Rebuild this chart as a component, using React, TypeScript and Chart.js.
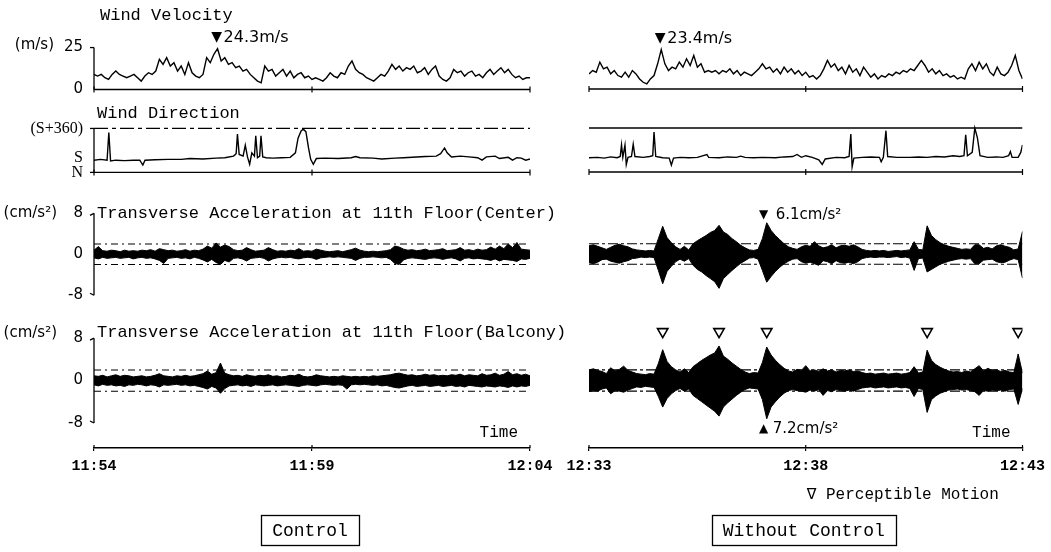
import React, { useEffect, useRef } from "react";
import { Chart, registerables } from "chart.js";

Chart.register(...registerables);

// ---------------- data ----------------
const TIME_TICKS = [0, 5, 10]; // minutes from start of record
const TIME_LABELS_CONTROL = ["11:54", "11:59", "12:04"];
const TIME_LABELS_NO_CONTROL = ["12:33", "12:38", "12:43"];

// wind velocity (m/s), one value every 5 s
const VEL_STEP_MIN = 1 / 12;
const VEL_TICKS = [0, 25];
const VEL_CONTROL = [
  9, 8, 9, 7, 6, 9, 11, 9, 8, 7, 8, 9, 7, 5, 8, 10, 9, 11, 18, 15,
  19, 14, 16, 11, 14, 9, 16, 10, 8, 7, 9, 19, 16, 21, 24.3, 17, 19, 15, 16, 13,
  14, 11, 12, 9, 7, 5, 4, 14, 11, 12, 8, 10, 12, 8, 11, 7, 9, 10, 7, 8,
  6, 7, 6, 5, 7, 10, 8, 7, 10, 9, 14, 17, 12, 10, 9, 7, 6, 5, 7, 9,
  8, 11, 15, 12, 14, 11, 13, 12, 14, 10, 11, 13, 9, 12, 14, 8, 6, 5, 7, 12,
  10, 11, 8, 10, 11, 8, 9, 7, 10, 12, 9, 11, 13, 10, 12, 9, 7, 8, 6, 7,
  7,
];
const VEL_NO_CONTROL = [
  9, 11, 10, 16, 12, 13, 9, 11, 8, 7, 10, 7, 11, 9, 6, 4, 3, 6, 8, 15,
  23.4, 15, 11, 13, 12, 16, 13, 18, 14, 20, 13, 15, 10, 11, 10, 11, 9, 11, 10, 12,
  9, 11, 8, 10, 9, 8, 10, 12, 15, 12, 13, 10, 12, 9, 13, 10, 12, 9, 11, 8,
  10, 7, 8, 6, 8, 12, 17, 13, 15, 11, 13, 9, 14, 10, 12, 8, 13, 10, 7, 9,
  6, 8, 7, 9, 8, 10, 9, 11, 10, 12, 11, 14, 17, 14, 10, 12, 9, 11, 8, 9,
  7, 8, 6, 7, 6, 12, 15, 11, 16, 12, 15, 10, 8, 13, 9, 8, 10, 14, 20, 11,
  6,
];

// wind direction (deg from N; S = 180, S+360 = 540)
const DIR_TICKS = [0, 180, 540];
const DIR_TICK_LABELS = ["N", "S", "(S+360)"];
const DIR_TOP = 540;
const DIR_CONTROL_T = [
  0, 0.15, 0.3, 0.34, 0.38, 0.5, 0.7, 0.9, 1.05, 1.12, 1.17, 1.4, 1.7, 2.0, 2.2, 2.5, 2.8, 3.0,
  3.2, 3.26, 3.29, 3.33, 3.42, 3.47, 3.52, 3.57, 3.62, 3.68, 3.71, 3.75, 3.8, 3.83, 3.87, 3.95,
  4.1, 4.3, 4.5, 4.62, 4.68, 4.75, 4.8, 4.86, 4.92, 4.97, 5.03, 5.1, 5.3, 5.6, 5.9, 6.0, 6.1,
  6.4, 6.6, 6.9, 7.1, 7.4, 7.6, 7.85, 7.95, 8.04, 8.1, 8.2, 8.4, 8.6, 8.8, 8.9, 9.0, 9.2, 9.3,
  9.5, 9.6, 9.7, 9.8, 9.9, 10,
];
const DIR_CONTROL = [
  150, 160, 150, 490, 140, 150, 145, 150, 150, 90, 150, 155, 160, 160, 170, 165, 175, 180,
  200, 230, 470, 220, 200, 335, 190, 100, 240, 200, 450, 180, 200, 450, 190, 180,
  175, 180, 185, 240, 420, 510, 530, 500, 300, 160, 100, 170, 175, 170, 180, 195, 180,
  175, 165, 175, 180, 190, 195, 200, 230, 300, 240, 190, 200, 190, 180, 150, 190, 200, 170,
  185, 150, 180, 175, 150, 165,
];
const DIR_NO_CONTROL_T = [
  0, 0.2, 0.35, 0.5, 0.65, 0.72, 0.75, 0.78, 0.83, 0.86, 0.9, 0.98, 1.02, 1.06, 1.25, 1.4, 1.47,
  1.5, 1.54, 1.7, 1.85, 1.9, 1.95, 2.1, 2.3, 2.5, 2.72, 2.76, 3.0, 3.2, 3.4, 3.5, 3.6, 3.8, 4.0,
  4.3, 4.5, 4.7, 4.8, 4.9, 5.0, 5.15, 5.3, 5.38, 5.45, 5.7, 5.9, 6.0, 6.04, 6.07, 6.11, 6.3, 6.5,
  6.7, 6.74, 6.79, 6.85, 6.89, 7.1, 7.4, 7.6, 7.8, 8.0, 8.2, 8.4, 8.55, 8.65, 8.69, 8.73, 8.84,
  8.9, 8.96, 9.02, 9.2, 9.4, 9.55, 9.68, 9.72, 9.76, 9.9, 9.96, 10,
];
const DIR_NO_CONTROL = [
  175, 180, 170, 185, 175, 190, 333, 180, 330, 90, 180, 190, 341, 190, 180, 190, 200,
  490, 190, 175, 170, 85, 170, 180, 175, 180, 215, 180, 175, 185, 180, 195, 180, 175, 180,
  175, 185, 190, 215, 180, 200, 180, 150, 93, 160, 180, 175, 190, 466, 64, 170, 180, 185,
  180, 126, 180, 507, 190, 180, 180, 185, 180, 190, 185, 200, 190, 200, 457, 200, 240,
  540, 420, 200, 180, 185, 180, 200, 250, 180, 180, 240, 333,
];

// transverse acceleration envelopes (cm/s²), one value every 6 s
const ACC_STEP_MIN = 0.1;
const ACC_TICKS = [-8, 0, 8];
const ACC_REF_LEVEL = 2;
const ACC_C_CONTROL_HI = [
  0.8, 1.5, 0.7, 0.6, 0.8, 0.7, 0.5, 0.8, 0.6, 0.7, 0.6, 0.8, 0.7, 0.9, 0.6, 1.1, 0.9, 0.7, 0.8, 0.6,
  0.7, 0.9, 0.6, 0.8, 0.7, 1.0, 1.6, 1.2, 2.2, 1.4, 1.8, 1.5, 0.9, 0.7, 0.8, 1.3, 0.9, 0.6, 0.7, 0.8,
  1.3, 0.9, 0.6, 0.7, 0.6, 0.8, 0.7, 1.1, 0.6, 0.7, 0.6, 1.0, 0.8, 0.6, 0.5, 0.6, 0.7, 0.5, 0.7, 0.9,
  1.2, 0.8, 0.6, 0.5, 0.6, 0.5, 0.6, 0.7, 0.9, 1.6, 1.4, 1.0, 0.8, 0.9, 0.7, 0.8, 1.0, 0.7, 0.8, 0.9,
  1.1, 0.7, 0.8, 0.9, 1.3, 0.8, 0.9, 0.7, 1.0, 0.8, 0.9, 1.4, 1.0, 1.6, 1.1, 2.0, 1.3, 2.3, 1.0, 0.9,
  0.8,
];
const ACC_C_CONTROL_LO = [
  -0.7, -0.9, -0.6, -0.8, -0.7, -0.6, -0.8, -0.7, -0.6, -0.9, -0.7, -0.6, -0.8, -0.7, -0.9, -1.2, -1.8, -0.8, -0.7, -0.6,
  -0.8, -0.7, -0.9, -0.6, -0.8, -1.1, -1.5, -1.0, -1.6, -2.0, -1.2, -1.5, -0.8, -0.7, -0.9, -1.3, -0.8, -0.7, -0.6, -0.8,
  -1.3, -0.9, -0.7, -0.6, -0.7, -0.6, -0.8, -0.9, -0.7, -0.6, -0.7, -1.0, -0.7, -0.6, -0.5, -0.6, -0.5, -0.6, -0.7, -0.8,
  -1.2, -0.8, -0.6, -0.6, -0.5, -0.6, -0.7, -0.6, -1.0, -1.8, -2.0, -1.1, -0.8, -0.7, -0.8, -0.9, -1.0, -0.8, -0.7, -0.8,
  -1.0, -0.8, -0.7, -0.9, -1.3, -0.8, -0.7, -0.9, -0.8, -0.9, -1.0, -1.2, -0.9, -1.3, -1.0, -1.1, -1.2, -1.4, -0.9, -1.0,
  -0.8,
];
const ACC_B_CONTROL_HI = [
  0.9, 0.8, 1.0, 0.7, 0.9, 1.1, 0.8, 1.0, 0.9, 0.7, 0.8, 0.9, 0.7, 0.8, 1.0, 1.3, 0.9, 0.8, 0.7, 0.9,
  0.8, 1.0, 0.8, 0.9, 1.1, 1.3, 1.8, 1.2, 1.5, 3.3, 1.4, 1.1, 0.9, 1.0, 0.8, 1.1, 0.9, 0.8, 1.0, 0.9,
  1.1, 0.8, 0.9, 0.7, 0.8, 1.0, 0.9, 1.2, 0.8, 0.7, 0.8, 1.1, 0.9, 0.8, 0.7, 0.8, 0.7, 0.9, 0.8, 0.7,
  0.8, 0.7, 0.8, 0.7, 0.9, 0.8, 0.9, 1.0, 1.1, 1.3, 1.4, 1.2, 1.0, 1.1, 0.9, 1.0, 1.2, 1.0, 1.1, 0.9,
  1.0, 0.9, 1.1, 1.0, 1.2, 0.9, 1.1, 1.0, 0.9, 1.3, 1.0, 1.1, 1.4, 1.0, 1.2, 1.7, 1.1, 1.3, 1.0, 1.2,
  0.9,
];
const ACC_B_CONTROL_LO = [
  -0.8, -1.0, -0.7, -0.9, -0.8, -1.0, -0.9, -1.1, -0.8, -0.9, -0.7, -0.8, -1.0, -0.8, -0.9, -1.2, -0.8, -0.9, -0.8, -0.7,
  -0.9, -0.8, -1.0, -0.9, -1.1, -1.3, -1.6, -1.1, -1.4, -2.4, -1.5, -1.0, -0.9, -0.8, -1.0, -0.9, -1.1, -0.8, -0.9, -1.0,
  -0.9, -0.8, -1.0, -0.9, -0.8, -0.9, -1.0, -1.1, -0.9, -0.8, -0.9, -1.0, -0.8, -0.7, -0.8, -0.9, -0.8, -0.9, -1.6, -0.8,
  -0.7, -0.8, -0.7, -0.8, -0.9, -0.8, -1.0, -0.9, -1.1, -1.3, -1.4, -1.2, -1.0, -0.9, -1.1, -1.0, -0.9, -1.1, -1.0, -0.9,
  -1.1, -1.0, -0.9, -1.1, -1.0, -1.2, -0.9, -1.0, -1.1, -1.2, -1.0, -1.1, -1.2, -1.0, -1.1, -1.3, -1.0, -1.2, -1.0, -1.1,
  -0.9,
];
const ACC_C_NO_CONTROL_HI = [
  1.6, 1.8, 1.5, 1.2, 0.9, 1.3, 1.7, 1.9, 1.6, 1.4, 1.0, 0.8, 0.7, 0.6, 0.7, 0.6, 3.0, 5.4, 3.2, 2.2,
  1.4, 0.9, 1.5, 0.8, 2.0, 2.6, 3.1, 3.6, 4.2, 4.6, 5.6, 4.3, 3.8, 3.0, 2.4, 1.7, 1.2, 0.8, 0.7, 0.9,
  3.0, 6.1, 4.6, 3.6, 2.8, 2.0, 1.4, 1.1, 0.9, 1.4, 1.7, 1.5, 2.4, 1.6, 1.2, 1.4, 1.8, 1.2, 1.6, 1.7,
  1.5, 1.8, 1.4, 0.9, 0.7, 0.6, 0.7, 0.6, 0.7, 0.5, 0.6, 0.7, 0.6, 0.7, 0.8, 2.4, 0.9, 0.8, 5.5, 3.6,
  2.8, 2.2, 1.8, 1.5, 1.3, 1.1, 0.9, 1.0, 0.9, 1.8, 1.8, 1.1, 1.3, 1.0, 1.6, 1.8, 1.5, 1.3, 0.8, 1.0,
  4.4,
];
const ACC_C_NO_CONTROL_LO = [
  -1.7, -1.9, -1.6, -1.1, -1.0, -1.4, -1.6, -1.8, -1.5, -1.3, -0.9, -0.8, -0.6, -0.7, -0.6, -0.7, -3.2, -5.8, -3.4, -2.4,
  -1.5, -1.0, -1.4, -0.9, -2.2, -3.0, -3.5, -4.2, -4.8, -5.4, -6.7, -4.8, -4.0, -3.2, -2.5, -1.8, -1.3, -0.8, -0.7, -1.0,
  -3.2, -5.5, -4.4, -3.4, -2.6, -1.9, -1.4, -1.0, -0.9, -1.5, -1.8, -1.6, -1.9, -2.2, -1.3, -1.5, -1.9, -1.3, -1.7, -1.8,
  -1.6, -1.9, -1.5, -0.9, -0.7, -0.6, -0.7, -0.6, -0.6, -0.7, -0.6, -0.5, -0.7, -0.6, -0.8, -3.2, -0.9, -0.8, -3.5, -3.0,
  -2.5, -2.0, -1.7, -1.4, -1.2, -1.0, -0.9, -1.0, -0.9, -1.9, -1.9, -1.2, -1.1, -1.0, -1.5, -1.7, -1.6, -1.2, -0.9, -1.1,
  -4.7,
];
const ACC_B_NO_CONTROL_HI = [
  2.0, 2.2, 1.9, 1.7, 1.3, 2.4, 1.8, 2.1, 2.7, 1.9, 1.6, 1.3, 1.2, 1.1, 1.3, 1.2, 3.2, 5.8, 3.6, 2.6,
  2.0, 1.6, 2.2, 1.5, 2.6, 3.2, 3.8, 4.3, 4.8, 5.2, 6.5, 4.6, 4.0, 3.3, 2.7, 2.1, 1.6, 1.3, 1.5, 1.4,
  3.4, 6.3, 4.8, 3.8, 3.0, 2.3, 1.8, 1.6, 2.1, 1.9, 2.8, 1.8, 2.0, 1.7, 2.2, 1.8, 2.0, 1.6, 1.9, 1.8,
  2.0, 1.7, 1.8, 1.5, 1.3, 1.4, 1.2, 1.3, 1.4, 1.2, 1.3, 1.4, 1.2, 1.3, 1.5, 2.6, 1.4, 1.6, 5.7, 3.8,
  3.0, 2.5, 2.1, 1.8, 1.6, 1.7, 1.5, 1.8, 1.6, 2.2, 2.8, 1.8, 2.3, 1.9, 2.0, 1.7, 1.9, 1.6, 1.5, 5.0,
  1.4,
];
const ACC_B_NO_CONTROL_LO = [
  -2.1, -1.9, -2.0, -1.6, -1.4, -2.5, -1.9, -2.0, -2.2, -1.8, -1.5, -1.2, -1.3, -1.1, -1.2, -1.3, -3.0, -5.0, -3.4, -2.5,
  -1.9, -1.5, -2.0, -1.6, -2.8, -3.4, -4.0, -4.6, -5.2, -5.8, -6.7, -5.0, -4.2, -3.5, -2.8, -2.2, -1.7, -1.4, -1.5, -1.6,
  -3.6, -7.2, -5.0, -4.0, -3.1, -2.4, -1.9, -1.7, -1.9, -2.0, -2.2, -1.8, -2.0, -1.7, -2.8, -1.9, -2.1, -1.7, -1.9, -2.0,
  -1.8, -2.0, -1.7, -1.4, -1.3, -1.2, -1.4, -1.3, -1.2, -1.4, -1.3, -1.2, -1.4, -1.3, -1.5, -3.0, -1.5, -1.7, -6.0, -3.6,
  -2.9, -2.4, -2.1, -1.8, -1.7, -1.6, -1.8, -1.7, -1.9, -2.1, -2.8, -1.9, -2.0, -1.8, -1.9, -1.8, -2.0, -1.7, -1.6, -4.5,
  -1.5,
];

// annotated peaks and perceptible-motion marks (no control)
const PEAK_VEL_CONTROL = { t: 34 / 12, v: 24.3, label: "24.3m/s" };
const PEAK_VEL_NO_CONTROL = { t: 20 / 12, v: 23.4, label: "23.4m/s" };
const PEAK_ACC_CENTER = { t: 4.1, v: 6.1, label: "6.1cm/s²" };
const PEAK_ACC_BALCONY = { t: 4.1, v: -7.2, label: "7.2cm/s²" };
const PERCEPTIBLE_T = [1.7, 3.0, 4.1, 7.8, 9.9];
const PERCEPTIBLE_MARK_LEVEL = 9.2;

// ---------------- layout / style ----------------
const MONO = "'Liberation Mono', 'DejaVu Sans Mono', monospace";
const SANS = "'DejaVu Sans', 'Liberation Sans', sans-serif";
const SERIF = "'Liberation Serif', 'DejaVu Serif', serif";
const PLOT_TOP = 20;
const PLOT_BOTTOM = 448;
const CANVAS_H = 552;

// each row: pixel slice [top,bottom] and two anchors [value, pixel]
const ROWS = {
  vel: { top: 20, bottom: 100, a: [25, 47], b: [0, 89] },
  dir: { top: 100, bottom: 185, a: [540, 128], b: [0, 172] },
  acc1: { top: 185, bottom: 316, a: [8, 213], b: [-8, 295] },
  acc2: { top: 316, bottom: 448, a: [8, 338], b: [-8, 423] },
};

function rowRange(r) {
  const k = (r.b[1] - r.a[1]) / (r.a[0] - r.b[0]);
  return {
    min: r.b[0] - (r.bottom - r.b[1]) / k,
    max: r.a[0] + (r.a[1] - r.top) / k,
    weight: r.bottom - r.top,
  };
}

const CONTROL_PANEL = {
  left: true,
  canvasX: 0,
  canvasW: 600,
  plotLeft: 94,
  plotRight: 530,
  timeLabels: TIME_LABELS_CONTROL,
  vel: VEL_CONTROL,
  dirT: DIR_CONTROL_T,
  dir: DIR_CONTROL,
  accC: [ACC_C_CONTROL_HI, ACC_C_CONTROL_LO],
  accB: [ACC_B_CONTROL_HI, ACC_B_CONTROL_LO],
  velPeak: PEAK_VEL_CONTROL,
  caption: "Control",
};
const NO_CONTROL_PANEL = {
  left: false,
  canvasX: 560,
  canvasW: 491,
  plotLeft: 29,
  plotRight: 464,
  timeLabels: TIME_LABELS_NO_CONTROL,
  vel: VEL_NO_CONTROL,
  dirT: DIR_NO_CONTROL_T,
  dir: DIR_NO_CONTROL,
  accC: [ACC_C_NO_CONTROL_HI, ACC_C_NO_CONTROL_LO],
  accB: [ACC_B_NO_CONTROL_HI, ACC_B_NO_CONTROL_LO],
  velPeak: PEAK_VEL_NO_CONTROL,
  caption: "Without Control",
};

const sampled = (ys, step) => ys.map((y, i) => ({ x: i * step, y }));
const paired = (xs, ys) => ys.map((y, i) => ({ x: xs[i], y }));
const level = (y) => [
  { x: TIME_TICKS[0], y },
  { x: TIME_TICKS[TIME_TICKS.length - 1], y },
];

function seg(ctx, x1, y1, x2, y2, w = 1.3) {
  ctx.save();
  ctx.strokeStyle = "#000";
  ctx.lineWidth = w;
  ctx.beginPath();
  ctx.moveTo(x1, y1);
  ctx.lineTo(x2, y2);
  ctx.stroke();
  ctx.restore();
}
function txt(ctx, s, x, y, font, align = "left") {
  ctx.save();
  ctx.fillStyle = "#000";
  ctx.font = font;
  ctx.textAlign = align;
  ctx.textBaseline = "middle";
  ctx.fillText(s, x, y);
  ctx.restore();
}

function yScale(key, ticks, labels, font, order, panel) {
  const r = rowRange(ROWS[key]);
  return {
    type: "linear",
    position: "left",
    stack: "rows",
    stackWeight: r.weight,
    weight: order,
    min: r.min,
    max: r.max,
    bounds: "data",
    afterBuildTicks: (s) => {
      s.ticks = ticks.map((v) => ({ value: v }));
    },
    afterFit: (s) => {
      s.width = panel.plotLeft;
    },
    grid: { display: false, drawTicks: false },
    border: { display: false },
    ticks: {
      display: panel.left,
      autoSkip: false,
      padding: 11,
      color: "#000",
      font,
      callback: (v) => (labels ? labels[ticks.indexOf(v)] : String(v)),
    },
  };
}

function buildConfig(panel) {
  const base = {
    type: "line",
    pointRadius: 0,
    borderColor: "#000",
    borderWidth: 1.4,
    tension: 0,
    fill: false,
    xAxisID: "x",
  };
  const refDash = panel.left ? [7, 4, 2, 4] : [10, 3, 3, 3];
  const datasets: any[] = [
    { ...base, yAxisID: "yVel", data: sampled(panel.vel, VEL_STEP_MIN) },
    { ...base, yAxisID: "yVel", borderWidth: 1.4, data: level(0) },
    { ...base, yAxisID: "yDir", borderWidth: 1.3, borderDash: panel.left ? [14, 4, 4, 4] : [], data: level(DIR_TOP) },
    { ...base, yAxisID: "yDir", borderWidth: 1.4, data: level(0) },
    { ...base, yAxisID: "yDir", data: paired(panel.dirT, panel.dir) },
    { ...base, yAxisID: "yAcc1", borderWidth: 1, backgroundColor: "#000", fill: "+1", data: sampled(panel.accC[0], ACC_STEP_MIN) },
    { ...base, yAxisID: "yAcc1", borderWidth: 1, data: sampled(panel.accC[1], ACC_STEP_MIN) },
    { ...base, yAxisID: "yAcc1", borderWidth: 1.1, borderDash: refDash, data: level(ACC_REF_LEVEL) },
    { ...base, yAxisID: "yAcc1", borderWidth: 1.1, borderDash: refDash, data: level(-ACC_REF_LEVEL) },
    { ...base, yAxisID: "yAcc2", borderWidth: 1, backgroundColor: "#000", fill: "+1", data: sampled(panel.accB[0], ACC_STEP_MIN) },
    { ...base, yAxisID: "yAcc2", borderWidth: 1, data: sampled(panel.accB[1], ACC_STEP_MIN) },
    { ...base, yAxisID: "yAcc2", borderWidth: 1.1, borderDash: refDash, data: level(ACC_REF_LEVEL) },
    { ...base, yAxisID: "yAcc2", borderWidth: 1.1, borderDash: refDash, data: level(-ACC_REF_LEVEL) },
  ];
  if (!panel.left) {
    datasets.push({
      type: "line",
      xAxisID: "x",
      yAxisID: "yAcc2",
      showLine: false,
      pointStyle: "triangle",
      rotation: 180,
      pointRadius: 6,
      pointBackgroundColor: "#fff",
      pointBorderColor: "#000",
      pointBorderWidth: 1.6,
      data: PERCEPTIBLE_T.map((t) => ({ x: t, y: PERCEPTIBLE_MARK_LEVEL })),
    });
  }

  const overlay = {
    id: "overlay",
    afterDraw(chart) {
      const { ctx, chartArea } = chart;
      const x = chart.scales.x;
      const yV = chart.scales.yVel;
      const yD = chart.scales.yDir;
      const yA1 = chart.scales.yAcc1;
      const yA2 = chart.scales.yAcc2;

      // ticks on record baselines and time axis
      for (const t of TIME_TICKS) {
        const px = x.getPixelForValue(t);
        seg(ctx, px, yV.getPixelForValue(0) - 3, px, yV.getPixelForValue(0) + 3, 1.2);
        seg(ctx, px, yD.getPixelForValue(0) - 3, px, yD.getPixelForValue(0) + 3, 1.2);
        seg(ctx, px, chartArea.bottom - 3, px, chartArea.bottom, 1.2);
      }

      // peak annotation on wind velocity
      const pv = panel.velPeak;
      const pvx = x.getPixelForValue(pv.t);
      const pvy = yV.getPixelForValue(pv.v) - 11;
      txt(ctx, "▼", pvx - 1, pvy, `14px ${SANS}`, "center");
      txt(ctx, pv.label, pvx + 6, pvy, `16px ${SANS}`);

      // "Time" label
      txt(ctx, "Time", x.getPixelForValue(10) - 12, 433, `16px ${MONO}`, "right");

      // caption box
      const cx = x.getPixelForValue(5) - 2;
      ctx.save();
      ctx.font = `18px ${MONO}`;
      const w = ctx.measureText(panel.caption).width + 22;
      ctx.restore();
      ctx.save();
      ctx.strokeStyle = "#000";
      ctx.lineWidth = 1.3;
      ctx.strokeRect(Math.round(cx - w / 2) + 0.5, 515.5, Math.round(w), 30);
      ctx.restore();
      txt(ctx, panel.caption, cx, 531, `18px ${MONO}`, "center");

      if (panel.left) {
        const ax = chartArea.left;
        // vertical axis segments
        seg(ctx, ax, yV.getPixelForValue(25), ax, yV.getPixelForValue(0));
        seg(ctx, ax - 4, yV.getPixelForValue(25), ax, yV.getPixelForValue(25));
        seg(ctx, ax, yD.getPixelForValue(DIR_TOP), ax, yD.getPixelForValue(0));
        seg(ctx, ax - 4, yD.getPixelForValue(DIR_TOP), ax, yD.getPixelForValue(DIR_TOP));
        seg(ctx, ax - 4, yD.getPixelForValue(0), ax, yD.getPixelForValue(0));
        for (const ys of [yA1, yA2]) {
          seg(ctx, ax, ys.getPixelForValue(8), ax, ys.getPixelForValue(-8));
          seg(ctx, ax - 4, ys.getPixelForValue(8) + 2, ax, ys.getPixelForValue(8));
          seg(ctx, ax - 4, ys.getPixelForValue(-8) - 2, ax, ys.getPixelForValue(-8));
        }
        // units
        txt(ctx, "(m/s)", 54, yV.getPixelForValue(25) - 2, `15px ${SANS}`, "right");
        txt(ctx, "(cm/s²)", 57, yA1.getPixelForValue(8), `15px ${SANS}`, "right");
        txt(ctx, "(cm/s²)", 57, yA2.getPixelForValue(8) - 5, `15px ${SANS}`, "right");
        // row titles
        txt(ctx, "Wind Velocity", 100, 15, `17px ${MONO}`);
        txt(ctx, "Wind Direction", 97, 113, `17px ${MONO}`);
        txt(ctx, "Transverse Acceleration at 11th Floor(Center)", 97, yA1.getPixelForValue(8), `17px ${MONO}`);
        txt(ctx, "Transverse Acceleration at 11th Floor(Balcony)", 97, yA2.getPixelForValue(8) - 6, `17px ${MONO}`);
      } else {
        // acceleration peaks
        const c = PEAK_ACC_CENTER;
        const cxp = x.getPixelForValue(c.t);
        const cyp = yA1.getPixelForValue(c.v) - 8;
        txt(ctx, "▼", cxp - 3, cyp, `12px ${SANS}`, "center");
        txt(ctx, c.label, cxp + 9, cyp, `15px ${SANS}`);
        const b = PEAK_ACC_BALCONY;
        const bxp = x.getPixelForValue(b.t);
        const byp = yA2.getPixelForValue(b.v) + 10;
        txt(ctx, "▲", bxp - 3, byp, `12px ${SANS}`, "center");
        txt(ctx, b.label, bxp + 6, byp, `15px ${SANS}`);
        // legend for marks
        txt(ctx, "∇ Perceptible Motion", x.getPixelForValue(5) + 1, 495, `16px ${MONO}`);
      }
    },
  };

  const tickFont = { family: SANS, size: 15 };
  return {
    type: "line",
    data: { datasets },
    options: {
      animation: false,
      responsive: false,
      devicePixelRatio: 1,
      events: [],
      layout: { padding: { top: PLOT_TOP, bottom: 0, left: 0, right: panel.canvasW - panel.plotRight } },
      plugins: { legend: { display: false }, tooltip: { enabled: false } },
      scales: {
        x: {
          type: "linear",
          position: "bottom",
          min: TIME_TICKS[0],
          max: TIME_TICKS[TIME_TICKS.length - 1],
          afterBuildTicks: (s) => {
            s.ticks = TIME_TICKS.map((v) => ({ value: v }));
          },
          afterFit: (s) => {
            s.height = CANVAS_H - PLOT_BOTTOM;
          },
          grid: { display: true, drawOnChartArea: false, drawTicks: true, tickLength: 3, color: "#000", lineWidth: 1.2 },
          border: { display: true, color: "#000", width: 1.4 },
          ticks: {
            autoSkip: false,
            maxRotation: 0,
            padding: 6,
            color: "#000",
            font: { family: MONO, size: 15, weight: "bold" },
            callback: (v) => panel.timeLabels[TIME_TICKS.indexOf(v)],
          },
        },
        yVel: yScale("vel", VEL_TICKS, null, tickFont, 4, panel),
        yDir: yScale("dir", DIR_TICKS, DIR_TICK_LABELS, { family: SERIF, size: 16 }, 3, panel),
        yAcc1: yScale("acc1", ACC_TICKS, null, tickFont, 2, panel),
        yAcc2: yScale("acc2", ACC_TICKS, null, tickFont, 1, panel),
      },
    },
    plugins: [overlay],
  };
}

export default function App() {
  const leftRef = useRef<HTMLCanvasElement>(null);
  const rightRef = useRef<HTMLCanvasElement>(null);
  useEffect(() => {
    const a = new Chart(leftRef.current as HTMLCanvasElement, buildConfig(CONTROL_PANEL) as any);
    const b = new Chart(rightRef.current as HTMLCanvasElement, buildConfig(NO_CONTROL_PANEL) as any);
    return () => {
      a.destroy();
      b.destroy();
    };
  }, []);
  const cs = (p) => ({ position: "absolute" as const, left: p.canvasX, top: 0, width: p.canvasW, height: CANVAS_H });
  return (
    <div style={{ position: "absolute", left: 0, top: 0, width: 1051, height: 552, background: "#fff", overflow: "hidden" }}>
      <canvas ref={leftRef} width={CONTROL_PANEL.canvasW} height={CANVAS_H} style={cs(CONTROL_PANEL)} />
      <canvas ref={rightRef} width={NO_CONTROL_PANEL.canvasW} height={CANVAS_H} style={cs(NO_CONTROL_PANEL)} />
    </div>
  );
}
